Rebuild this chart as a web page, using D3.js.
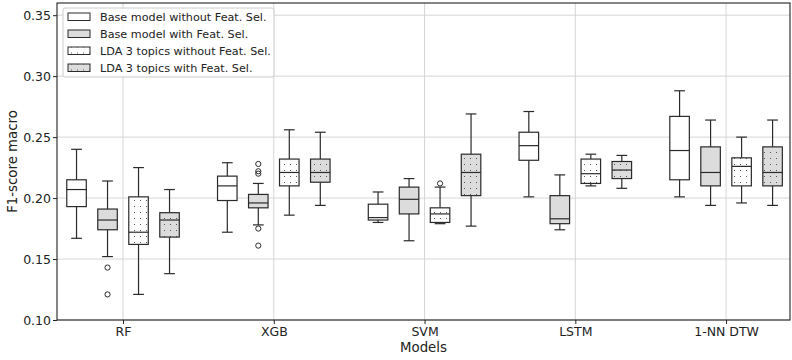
<!DOCTYPE html>
<html>
<head>
<meta charset="utf-8">
<script src="https://cdn.jsdelivr.net/npm/d3@7"></script>
<style>
  html, body { margin: 0; padding: 0; background: #fff; }
  svg { display: block; font-family: "DejaVu Sans", sans-serif; }
</style>
</head>
<body>
<svg id="chart" width="792" height="360"></svg>
<script>
// Models on the x axis
const models = ["RF", "XGB", "SVM", "LSTM", "1-NN DTW"];
// Configurations compared for each model
const seriesNames = [
  "Base model without Feat. Sel.",
  "Base model with Feat. Sel.",
  "LDA 3 topics without Feat. Sel.",
  "LDA 3 topics with Feat. Sel."
];
const yTicks = [0.10, 0.15, 0.20, 0.25, 0.30, 0.35];

// Box statistics per model: [lower whisker, Q1, median, Q3, upper whisker]
const baseNoFs = [
  [0.167, 0.193, 0.207, 0.215, 0.240],
  [0.172, 0.198, 0.210, 0.218, 0.229],
  [0.180, 0.182, 0.184, 0.195, 0.205],
  [0.201, 0.231, 0.243, 0.254, 0.271],
  [0.201, 0.215, 0.239, 0.267, 0.288]
];
const baseFs = [
  [0.152, 0.174, 0.182, 0.191, 0.214],
  [0.178, 0.192, 0.196, 0.203, 0.212],
  [0.165, 0.187, 0.199, 0.209, 0.216],
  [0.174, 0.179, 0.183, 0.202, 0.219],
  [0.194, 0.210, 0.221, 0.242, 0.264]
];
const ldaNoFs = [
  [0.121, 0.162, 0.172, 0.201, 0.225],
  [0.186, 0.210, 0.221, 0.232, 0.256],
  [0.179, 0.180, 0.187, 0.192, 0.209],
  [0.210, 0.212, 0.220, 0.232, 0.236],
  [0.196, 0.210, 0.226, 0.233, 0.250]
];
const ldaFs = [
  [0.138, 0.168, 0.182, 0.188, 0.207],
  [0.194, 0.213, 0.221, 0.232, 0.254],
  [0.177, 0.202, 0.221, 0.236, 0.269],
  [0.208, 0.216, 0.223, 0.230, 0.235],
  [0.194, 0.210, 0.221, 0.242, 0.264]
];
// Outlying runs per model
const baseNoFsOut = [[], [], [], [], []];
const baseFsOut = [[0.143, 0.121], [0.228, 0.222, 0.220, 0.175, 0.161], [], [], []];
const ldaNoFsOut = [[], [], [0.212], [], []];
const ldaFsOut = [[], [], [], [], []];

const seriesStats = [baseNoFs, baseFs, ldaNoFs, ldaFs];
const seriesOutliers = [baseNoFsOut, baseFsOut, ldaNoFsOut, ldaFsOut];
const seriesFill = ["#ffffff", "#dcdcdc", "#ffffff", "#dcdcdc"];
const seriesDots = [false, false, true, true];

const svg = d3.select("#chart");
const plot = { left: 57, right: 790, top: 3, bottom: 320 };

// Dotted hatch used by the LDA boxes
const defs = svg.append("defs");
["#ffffff", "#dcdcdc"].forEach((bg, i) => {
  const p = defs.append("pattern")
    .attr("id", "dots" + i)
    .attr("patternUnits", "userSpaceOnUse")
    .attr("width", 6).attr("height", 6);
  p.append("rect").attr("width", 6).attr("height", 6).attr("fill", bg);
  p.append("rect").attr("x", 2).attr("y", 2).attr("width", 1).attr("height", 1).attr("fill", "#555");
});
const fillFor = i => seriesDots[i] ? `url(#dots${seriesFill[i] === "#ffffff" ? 0 : 1})` : seriesFill[i];

const x = d3.scaleLinear().domain([0.562, 5.424]).range([plot.left, plot.right]);
const y = d3.scaleLinear().domain([0.10, 0.36]).range([plot.bottom, plot.top]);
const inner = d3.scaleBand().domain(d3.range(seriesNames.length)).range([-62, 62]);
const boxW = inner.bandwidth() * 0.63;
const capW = boxW * 0.55;

// Grid
const grid = svg.append("g");
grid.selectAll("line.h").data(yTicks).join("line")
  .attr("x1", plot.left).attr("x2", plot.right)
  .attr("y1", d => y(d)).attr("y2", d => y(d))
  .attr("stroke", "#d6d6d6").attr("stroke-width", 1);
grid.selectAll("line.v").data(models).join("line")
  .attr("x1", (d, i) => x(i + 1)).attr("x2", (d, i) => x(i + 1))
  .attr("y1", plot.top).attr("y2", plot.bottom)
  .attr("stroke", "#d6d6d6").attr("stroke-width", 1);

// Boxes
const stroke = "#2a2a2a";
seriesStats.forEach((stats, s) => {
  const g = svg.append("g");
  stats.forEach((st, m) => {
    const cx = x(m + 1) + inner(s) + inner.bandwidth() / 2;
    const [lo, q1, med, q3, hi] = st;
    g.append("line").attr("x1", cx).attr("x2", cx).attr("y1", y(hi)).attr("y2", y(q3))
      .attr("stroke", stroke).attr("stroke-width", 1.2);
    g.append("line").attr("x1", cx).attr("x2", cx).attr("y1", y(q1)).attr("y2", y(lo))
      .attr("stroke", stroke).attr("stroke-width", 1.2);
    [lo, hi].forEach(v => g.append("line")
      .attr("x1", cx - capW / 2).attr("x2", cx + capW / 2)
      .attr("y1", y(v)).attr("y2", y(v))
      .attr("stroke", stroke).attr("stroke-width", 1.2));
    g.append("rect")
      .attr("x", cx - boxW / 2).attr("y", y(q3))
      .attr("width", boxW).attr("height", y(q1) - y(q3))
      .attr("fill", fillFor(s)).attr("stroke", stroke).attr("stroke-width", 1.2);
    g.append("line").attr("x1", cx - boxW / 2).attr("x2", cx + boxW / 2)
      .attr("y1", y(med)).attr("y2", y(med))
      .attr("stroke", stroke).attr("stroke-width", 1.2);
    seriesOutliers[s][m].forEach(v => g.append("circle")
      .attr("cx", cx).attr("cy", y(v)).attr("r", 2.6)
      .attr("fill", "none").attr("stroke", stroke).attr("stroke-width", 1));
  });
});

// Frame
svg.append("rect")
  .attr("x", plot.left).attr("y", plot.top)
  .attr("width", plot.right - plot.left).attr("height", plot.bottom - plot.top)
  .attr("fill", "none").attr("stroke", "#222").attr("stroke-width", 1.1);

// Axes
const yAxis = svg.append("g").attr("transform", `translate(${plot.left},0)`)
  .call(d3.axisLeft(y).tickValues(yTicks).tickFormat(d3.format(".2f")).tickSize(4).tickPadding(2));
const xAxis = svg.append("g").attr("transform", `translate(0,${plot.bottom})`)
  .call(d3.axisBottom(x).tickValues(d3.range(1, models.length + 1))
    .tickFormat(d => models[d - 1]).tickSize(4).tickPadding(3));
[yAxis, xAxis].forEach(a => {
  a.select(".domain").remove();
  a.selectAll("line").attr("stroke", "#222");
  a.selectAll("text").attr("font-size", 12.5).attr("fill", "#222")
    .attr("font-family", "DejaVu Sans, sans-serif");
});

svg.append("text").attr("x", (plot.left + plot.right) / 2).attr("y", 352)
  .attr("text-anchor", "middle").attr("font-size", 13.3).attr("fill", "#222")
  .text("Models");
svg.append("text")
  .attr("transform", `translate(17,${(plot.top + plot.bottom) / 2}) rotate(-90)`)
  .attr("text-anchor", "middle").attr("font-size", 13.3).attr("fill", "#222")
  .text("F1-score macro");

// Legend
const lg = svg.append("g").attr("transform", "translate(63,8)");
lg.append("rect").attr("width", 211).attr("height", 69).attr("rx", 2)
  .attr("fill", "#fff").attr("fill-opacity", 0.85).attr("stroke", "#cccccc");
seriesNames.forEach((name, i) => {
  const row = lg.append("g").attr("transform", `translate(0,${8.5 + i * 17})`);
  row.append("rect").attr("x", 5).attr("y", -3.5).attr("width", 22).attr("height", 7.5)
    .attr("fill", fillFor(i)).attr("stroke", stroke).attr("stroke-width", 1);
  row.append("text").attr("x", 37).attr("y", 4).attr("font-size", 11.2).attr("fill", "#222")
    .text(name);
});
</script>
</body>
</html>
